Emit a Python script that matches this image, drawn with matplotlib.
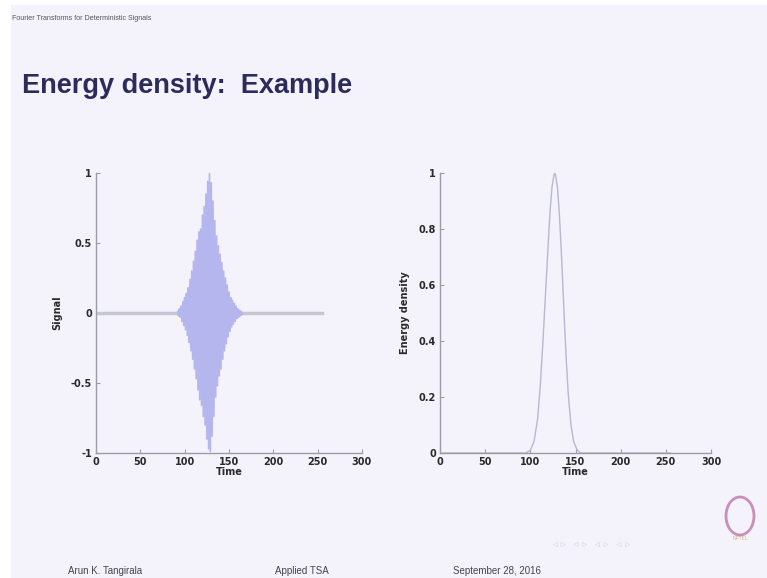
#!/usr/bin/env python3
"""
Energy density example slide: a windowed burst and its energy density
"""

import numpy as np
import matplotlib.pyplot as plt
from matplotlib.patches import Rectangle, Ellipse

# Signal: flat zero outside the burst, samples
quiet_time = [0, 255]
quiet_value = [0.0, 0.0]
burst_start = 92
burst_value = [
    0.01, -0.02, 0.03, -0.03, 0.05, -0.06, 0.08, -0.09,
    0.11, -0.12, 0.14, -0.16, 0.18, -0.21, 0.24, -0.27, 0.30, -0.33,
    0.37, -0.40, 0.44, -0.47, 0.52, -0.55, 0.58, -0.62, 0.60, -0.66,
    0.70, -0.74, 0.76, -0.80, 0.85, -0.90, 0.94, -0.97, 1.00, -0.99,
    0.93, -0.88, 0.80, -0.74, 0.66, -0.60, 0.55, -0.52, 0.48, -0.45,
    0.42, -0.40, 0.36, -0.33, 0.30, -0.27, 0.25, -0.22, 0.20, -0.17,
    0.15, -0.13, 0.11, -0.10, 0.09, -0.08, 0.07, -0.06, 0.05, -0.04,
    0.03, -0.03, 0.02, -0.02, 0.01, -0.01,
]

# Energy density curve
energy_time = [0, 95, 100, 104, 108, 111, 114, 117, 120, 122, 124, 126, 127,
               128, 130, 132, 134, 136, 138, 140, 142, 145, 148, 152, 156, 255]
energy_value = [0.0, 0.0, 0.01, 0.04, 0.12, 0.24, 0.40, 0.58, 0.76, 0.87, 0.95,
                0.99, 1.0, 0.99, 0.95, 0.86, 0.74, 0.60, 0.45, 0.32, 0.21, 0.10,
                0.04, 0.01, 0.0, 0.0]

x_ticks = [0, 50, 100, 150, 200, 250, 300]
signal_ticks = [-1, -0.5, 0, 0.5, 1]
signal_tick_labels = ['-1', '-0.5', '0', '0.5', '1']
energy_ticks = [0, 0.2, 0.4, 0.6, 0.8, 1]
energy_tick_labels = ['0', '0.2', '0.4', '0.6', '0.8', '1']

BG = '#f4f2fa'
TITLE = '#2b2b5c'
TEXT = '#2a2a2a'
SANS = 'Liberation Sans'


def style_axes(ax):
    ax.set_facecolor(BG)
    for side in ('top', 'right'):
        ax.spines[side].set_visible(False)
    for side in ('left', 'bottom'):
        ax.spines[side].set_color('#9c9ca8')
        ax.spines[side].set_linewidth(1.0)
    ax.tick_params(direction='in', length=3, width=0.8, color='#9c9ca8',
                   labelsize=7, labelcolor=TEXT, pad=3)
    for lab in ax.get_xticklabels() + ax.get_yticklabels():
        lab.set_fontweight('bold')


fig = plt.figure(figsize=(7.67, 5.78), dpi=100)
fig.patch.set_facecolor('white')
fig.patches.append(Rectangle((11 / 767, 0), 1, 1 - 5 / 578, transform=fig.transFigure,
                             facecolor=BG, edgecolor='none', zorder=-10))

# Header and title
fig.text(12 / 767, 1 - 18 / 578, 'Fourier Transforms for Deterministic Signals',
         fontsize=5.1, color='#555560', va='center', family=SANS)
fig.text(22 / 767, 1 - 86 / 578, 'Energy density:  Example', fontsize=19.5,
         fontweight='bold', color=TITLE, va='center', family=SANS)

# Left panel: signal
ax1 = fig.add_axes([96 / 767, 1 - 453 / 578, 266 / 767, 280 / 578])
burst_time = np.arange(burst_start, burst_start + len(burst_value))
ax1.plot(quiet_time, quiet_value, color='#c6c6d4', linewidth=2.5, zorder=2)
ax1.plot(burst_time, burst_value, color='#b6b6ee', linewidth=1.2, zorder=3)
ax1.set_xlim(0, 300)
ax1.set_ylim(-1, 1)
ax1.set_xticks(x_ticks)
ax1.set_yticks(signal_ticks)
ax1.set_yticklabels(signal_tick_labels)
ax1.set_xlabel('Time', fontsize=7, fontweight='bold', color=TEXT, labelpad=0)
ax1.set_ylabel('Signal', fontsize=7, fontweight='bold', color=TEXT, labelpad=6)
style_axes(ax1)

# Right panel: energy density
ax2 = fig.add_axes([440 / 767, 1 - 453 / 578, 271 / 767, 280 / 578])
ax2.plot(energy_time, energy_value, color='#b8b8d0', linewidth=1.0)
ax2.set_xlim(0, 300)
ax2.set_ylim(0, 1)
ax2.set_xticks(x_ticks)
ax2.set_yticks(energy_ticks)
ax2.set_yticklabels(energy_tick_labels)
ax2.set_xlabel('Time', fontsize=7, fontweight='bold', color=TEXT, labelpad=0)
ax2.set_ylabel('Energy density', fontsize=7, fontweight='bold', color=TEXT, labelpad=6)
style_axes(ax2)

# Footer
for x, s in [(68, 'Arun K. Tangirala'), (275, 'Applied TSA'), (453, 'September 28, 2016')]:
    fig.text(x / 767, 1 - 571 / 578, s, fontsize=7, color='#444450', va='center',
             family=SANS)
fig.text(552 / 767, 1 - 545 / 578, '\u25c1  \u25b7    \u25c1  \u25b7    \u25c1  \u25b7    \u25c1  \u25b7', fontsize=4.5,
         color='#c4c2d4', va='center')
fig.patches.append(Ellipse((740 / 767, 1 - 516 / 578), 28 / 767, 38 / 578,
                           transform=fig.transFigure, facecolor='none',
                           edgecolor='#c890b8', linewidth=2))
fig.text(740 / 767, 1 - 538 / 578, 'NPTEL', fontsize=3.5, color='#d8b890',
         ha='center', va='center')

plt.savefig('out.png', dpi=100)
plt.close()
